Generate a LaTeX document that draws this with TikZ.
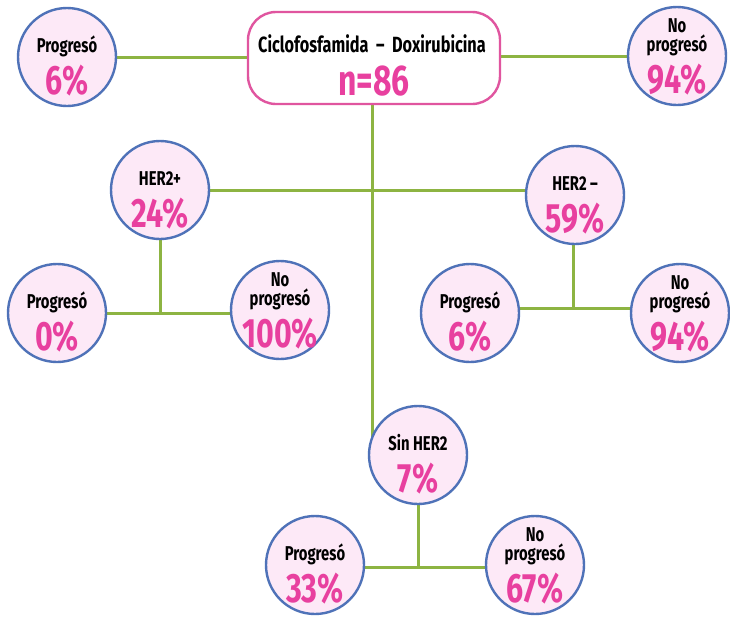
\documentclass[tikz,border=0pt]{standalone}
\usepackage{fontspec}
\setmainfont{Fira Sans}[FakeStretch=0.74]
\usetikzlibrary{calc,backgrounds}
\definecolor{cblue}{HTML}{4F72B8}
\definecolor{cfill}{HTML}{FDE9F7}
\definecolor{cmag}{HTML}{E8409F}
\definecolor{cpink}{HTML}{E0559F}
\definecolor{cgreen}{HTML}{8DB442}
\tikzset{
  bub/.style={circle, draw=cblue, line width=2.4pt, fill=cfill, minimum size=98pt, inner sep=0pt},
  topbox/.style={draw=cpink, line width=2.4pt, fill=white, rounded corners=28pt, minimum width=252pt, minimum height=92pt},
  lab/.style={inner sep=0pt, align=center, text depth=4pt, font=\bfseries\fontsize{20}{19}\selectfont, anchor=south},
  pct/.style={inner sep=0pt, text=cmag, font=\bfseries\fontsize{41}{41}\selectfont, anchor=base},
  link/.style={draw=cgreen, line width=3pt},
}
\newcommand\bubble[4]{%
  \node[bub] (#1) at (#2) {};
  \node[lab] (#1-l) at ($(#1)+(0,0)$) {#3};
  \node[pct] (#1-p) at ($(#1)+(0,37)$) {#4};
}
\begin{document}
\begin{tikzpicture}[x=1pt,y=-1pt]
\useasboundingbox (0,0) rectangle (730,616);
% top box
\node[topbox] (top) at (374,58) {};
\node[inner sep=0pt, font=\bfseries\fontsize{22}{22}\selectfont, anchor=base] (top-l) at (372,52) {Ciclofosfamida \,--\, Doxirubicina};
\node[inner sep=0pt, text=cmag, font=\bfseries\fontsize{43}{43}\selectfont, anchor=base] (top-n) at (374,95) {n=86};
% bubbles
\bubble{tl}{67,57}{Progresó}{6\%}
\bubble{tr}{677,56}{No\\progresó}{94\%}
\bubble{hp}{160,190}{HER2+}{24\%}
\bubble{hm}{575,195}{HER2\,--}{59\%}
\bubble{p0}{57,313}{Progresó}{0\%}
\bubble{np100}{280,310}{No\\progresó}{100\%}
\bubble{p6}{470,313}{Progresó}{6\%}
\bubble{np94}{680,313}{No\\progresó}{94\%}
\bubble{sin}{418,455}{Sin HER2}{7\%}
\bubble{p33}{315,565}{Progresó}{33\%}
\bubble{np67}{535,565}{No\\progresó}{67\%}
% junctions
\coordinate (trunk) at (372,190);
\coordinate (jhp) at (160,313);
\coordinate (jhm) at (573,308);
\coordinate (jsin) at (418,567);
\begin{scope}[on background layer]
  \fill[white] (0,0) rectangle (730,616);
  \draw[link] (tl) -- (tl -| top);
  \draw[link] (tr -| top) -- (tr);
  \draw[link] (top.south -| trunk) -- (trunk |- sin);
  \draw[link] (hp) -- (hp -| hm);
  \draw[link] (hp) -- (jhp);
  \draw[link] (jhp -| p0) -- (jhp -| np100);
  \draw[link] (hm.center -| jhm) -- (jhm);
  \draw[link] (jhm -| p6) -- (jhm -| np94);
  \draw[link] (sin) -- (jsin);
  \draw[link] (jsin -| p33) -- (jsin -| np67);
\end{scope}
\end{tikzpicture}
\end{document}
